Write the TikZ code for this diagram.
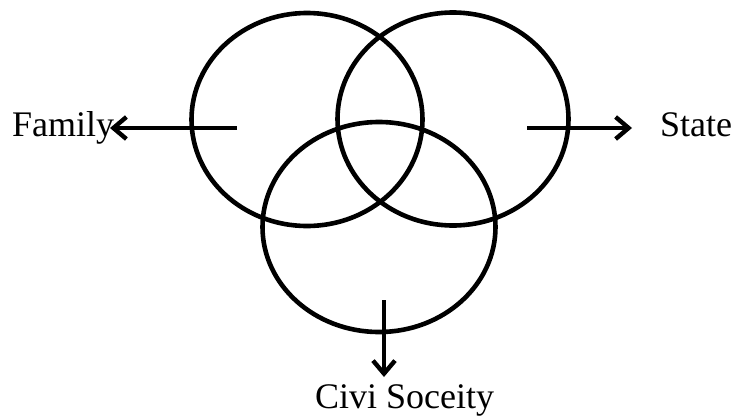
\documentclass[tikz,border=0pt]{standalone}
\usepackage{fontspec}
\setmainfont{Liberation Serif}
\usetikzlibrary{arrows.meta,shapes.geometric}
\begin{document}
\begin{tikzpicture}[x=1pt,y=-1pt,
  ring/.style={draw,line width=4.6pt,ellipse,minimum width=231pt,minimum height=213pt,inner sep=0pt},
  lab/.style={inner sep=0pt,font=\fontsize{36}{42}\selectfont},
  arr/.style={line width=4.4pt,-{Straight Barb[length=13pt,width=22pt,line width=4.4pt]}}]
\useasboundingbox (0,0) rectangle (734,418);
\node[ring] (fam) at (307,119.5) {};
\node[ring] (sta) at (453,119) {};
\node[ring,minimum width=233pt,minimum height=210pt] (civ) at (379,227) {};
\node[lab,anchor=base west] (famt) at (12,136) {Family};
\node[lab,anchor=base west] (stat) at (660,136) {State};
\node[lab,anchor=base west] (civt) at (315,408) {Civi Soceity};
\coordinate (fa) at (237,128);
\coordinate (fb) at (110,128);
\coordinate (sa) at (527,128);
\coordinate (sb) at (632,128);
\coordinate (ca) at (384,300);
\coordinate (cb) at (384,377);
\draw[arr] (fa) -- (fb);
\draw[arr] (sa) -- (sb);
\draw[arr] (ca) -- (cb);
\end{tikzpicture}
\end{document}
